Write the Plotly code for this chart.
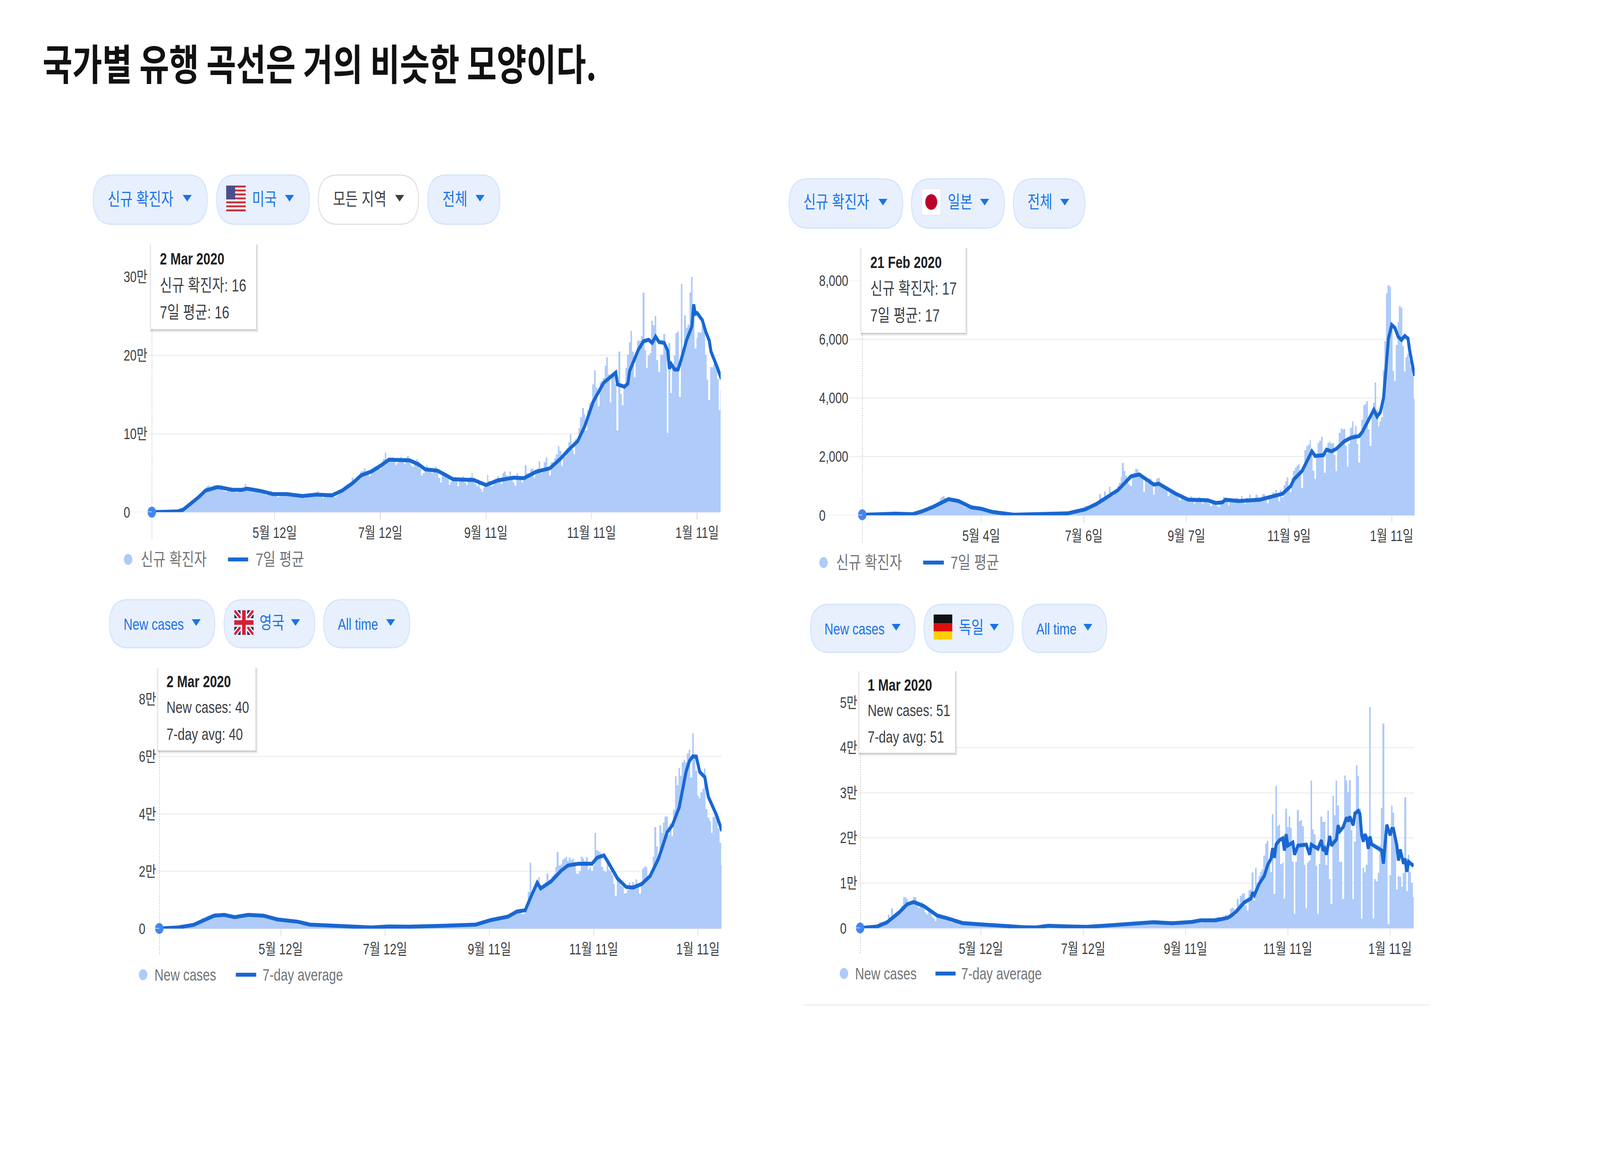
import pandas as pd
import plotly.graph_objects as go

W, H = 5333, 3000

title_text = "국가별 유행 곡선은 거의 비슷한 모양이다."

# ---------- United States (thousands per day, from 2 Mar 2020)
us_start = "2020-03-02"
us_new = [0,0,0,0,0,0.1,0.1,0.1,0.2,0.2,
 0.3,0.4,0.5,0.7,0.8,1,1.5,2,3,4,
 6,8,9,11,13,16,19,20,21,25,
 28,30,33,34,31,33,35,34,33,32,
 35,30,27,26,28,30,32,29,27,25,
 29,28,27,30,36,31,30,29,28,26,
 27,30,29,28,27,24,22,24,25,27,
 25,24,22,19,20,23,25,24,25,24,
 22,20,21,22,23,24,22,19,18,19,
 21,23,24,23,21,24,27,22,20,18,
 20,22,23,25,22,21,19,21,23,26,
 26,30,34,36,33,38,44,42,40,46,
 48,52,53,56,48,50,46,56,58,59,
 60,62,55,64,68,76,64,66,68,70,
 68,60,63,67,71,64,62,70,72,67,
 60,58,63,68,65,56,47,50,57,60,
 57,54,50,52,58,54,44,38,48,50,
 46,43,35,39,44,45,42,33,42,44,
 46,38,35,42,45,50,44,36,33,38,
 30,26,32,36,48,40,33,34,42,43,
 46,42,36,50,52,47,40,52,44,38,
 34,50,46,42,38,45,60,50,50,55,
 56,44,52,56,65,50,
 54,64,70,57,47,64,64,69,74,84,
 78,59,70,71,81,89,99,80,74,93,
 94,107,121,133,125,104,130,139,141,163,
 181,159,135,165,167,171,187,198,176,140,
 177,179,163,104,205,151,136,163,184,201,
 217,231,205,172,202,219,219,225,280,207,
 184,200,203,244,238,250,194,179,201,201,
 227,211,101,216,152,189,200,228,230,147,
 291,209,251,235,239,280,300,253,209,222,
 229,229,239,240,201,169,143,185,185,189,
 191,170,130,155]
us_avg_days = [0,8,15,18,22,27,31,35,38,42,46,52,55,63,70,78,87,95,104,110,116,121,127,131,137,149,154,158,165,170,174,186,193,200,209,215,222,230,236,241,246,250,255,261,268,269,273,275,276,281,284,287,289,291,293,296,298,299,300,302,304,306,309,312,313,314,315,318,320,322,323,327,329]
us_avg = [0.02,0.1,1,3,10,19,27.6,30.5,32,30.5,28.7,28.4,30,27,23,23,20.6,22.4,21.4,27.6,37,47,52,57.4,67,66,61,54.6,52.9,47,42,41,34.6,40.6,44,43.4,51.5,56,68,80,90.5,109,141,165,178,163,160,164,180,207,218,220,216,224,217,216,206,183,189,182,182,196,220,237,265,253,254,245,230,219,205,182.6,170]
us_ticks = ["2020-05-12","2020-07-12","2020-09-11","2020-11-11","2021-01-11"]
us_ticklabels = ["5월 12일","7월 12일","9월 11일","11월 11일","1월 11일"]
us_yvals = [0,100,200,300]
us_ylabels = ["0","10만","20만","30만"]

# ---------- Japan (cases per day, from 21 Feb 2020)
jp_start = "2020-02-21"
jp_new = [17,15,20,25,30,20,25,35,30,25,
 30,40,35,40,50,45,55,50,60,45,
 55,50,45,40,45,55,50,35,30,40,
 35,40,45,60,70,100,130,150,170,190,
 230,260,280,300,340,370,420,480,560,620,
 660,600,560,520,540,510,480,460,430,440,
 380,340,320,280,260,280,260,240,200,240,
 250,230,200,180,150,130,120,100,90,80,
 70,60,50,40,40,30,30,25,25,20,
 20,25,20,30,35,40,30,25,35,40,
 45,40,30,25,35,40,45,50,40,30,
 35,40,50,55,45,35,40,50,60,70,
 60,55,50,65,70,80,90,100,130,140,
 170,190,200,220,170,210,250,300,320,280,
 290,380,410,430,450,350,720,600,500,810,
 560,620,970,800,650,800,900,1000,1100,1300,
 1780,1500,1350,1200,1050,1000,1300,1450,1590,1570,
 1450,1350,1300,800,1200,1100,1250,1250,1100,700,
 1100,1250,1280,1050,1000,1000,1000,850,650,900,
 850,800,700,750,600,500,700,650,600,550,
 480,600,650,600,400,500,580,620,500,400,
 550,520,500,400,300,450,500,450,320,280,
 400,500,620,550,520,330,500,480,500,550,
 600,420,500,650,520,400,600,580,700,550,
 480,600,700,620,500,
 590,717,705,530,416,647,694,790,763,867,
 734,485,867,618,1023,1156,1295,994,792,1283,
 1514,1630,1688,1745,1428,936,1572,2220,2353,2410,
 2566,2035,1514,1237,2046,2468,2543,2670,2035,1445,
 2092,2468,2497,2451,2468,2046,1503,2237,2815,2971,
 2930,2948,2370,1659,2439,2988,3191,2786,3046,2439,
 1803,2728,3260,3757,3798,3884,2930,2370,3595,3838,
 4520,3595,3029,3191,3335,4936,5936,7555,7844,7786,
 6486,4925,4578,5803,6590,7121,7064,5763,4896,5387,
 5503,5272,5040,4751,3971,2786]
jp_avg_days = [0,13,20,31,37,44,53,59,67,73,80,93,108,126,137,144,157,165,170,179,182,192,200,212,217,221,223,231,244,251,258,263,265,270,276,278,283,285,288,291,296,300,305,307,309,311,314,316,318,320,321,323,325,327,329,331,333,335,336,339]
jp_avg = [17,40,56,37,140,300,550,486,270,224,112,20,40,65,205,392,860,1327,1390,1046,1075,747,532,514,420,440,530,486,530,647,734,994,1225,1514,2179,2023,2046,2237,2179,2266,2526,2642,2699,2844,3075,3248,3595,3364,3509,4000,4751,6023,6486,6381,6081,5977,6110,6023,5618,4751]
jp_ticks = ["2020-05-04","2020-07-06","2020-09-07","2020-11-09","2021-01-11"]
jp_ticklabels = ["5월 4일","7월 6일","9월 7일","11월 9일","1월 11일"]
jp_yvals = [0,2000,4000,6000,8000]
jp_ylabels = ["0","2,000","4,000","6,000","8,000"]

# ---------- United Kingdom (thousands per day, from 2 Mar 2020)
uk_start = "2020-03-02"
uk_new = [0.04,0.05,0.1,0.1,0.2,0.2,0.3,0.3,0.4,0.4,
 0.4,0.6,0.7,0.7,0.8,1,1.1,1.2,1.3,1.5,
 1.8,2,2.3,2.7,3,3.5,3.7,3.9,4.2,4.5,
 4.7,5,5,5.5,5.2,4.8,4.5,5,5.3,5,
 4.8,4.4,4,4.3,3.6,3.9,4.7,4.8,5,5.2,
 5,4.8,4.5,4.7,4.8,5,5.2,5,3.8,4.1,
 4.6,4.9,5,4.7,4.2,3.4,3.6,3.8,3.9,3.6,
 3.2,3,3,3.3,3.4,3.2,2.6,2.4,2.6,2.8,
 2.7,2.3,2.2,2.4,2.2,2,1.7,1.6,1.5,1.4,
 1.3,1.5,1.6,1.3,1.2,1,1.1,1.2,1.2,1.1,
 1,1.1,1.1,1,0.9,0.9,1,1,0.9,0.9,
 0.8,1,1,0.9,0.8,0.8,0.9,0.8,0.7,0.7,
 0.6,0.5,0.5,0.4,0.3,0.4,0.5,0.5,0.6,0.6,
 0.7,0.7,0.8,0.8,0.7,0.7,0.8,0.8,0.7,0.7,
 0.7,0.7,0.7,0.8,0.6,0.6,0.8,0.8,0.8,0.7,
 0.7,0.8,0.8,0.9,0.7,0.7,0.9,0.9,1,0.9,
 0.8,1,1,1,1.2,0.9,0.9,1,1.1,1,
 1,0.9,0.9,1,1.1,1,1,1,1.1,1,
 1.2,1.3,1.3,1.4,1.7,1.6,1.5,1.8,2.2,2.6,
 2.8,3,2.8,3,2.9,3.2,3.5,3.6,3.9,3.4,
 3.3,4,4.3,4.5,4.4,3.9,4.9,6,6.2,6.6,
 6.8,7,5,5,6.2,6.9,12.8,23,11,13,
 14,15,18,15.2,14,14.5,16,19.2,17,17.2,
 18.2,19,21.5,26.6,22,22.3,24,24.5,25,23.5,
 24.8,23.8,24.3,23.3,19.2,19,20,25,24.3,23.5,
 24.9,20.5,21.3,20.2,22,33.4,27.3,27,26.5,21.5,
 20.3,19.7,23,20.5,20,18.7,15.5,11.4,17.2,16.2,
 15,14.5,12.2,12.4,13.5,16,14.5,16.2,15.2,17.2,
 15.7,12.2,16,20.9,21.6,21.4,18.5,18.5,18.5,25,
 35.4,28.6,24.8,35.9,33.4,36.9,39,39,32.6,36.6,
 32.3,41.4,53,50,55.9,53.2,57.8,58.8,58,60.9,
 62.3,52.7,68,60,55,46.2,45.4,47.5,48.7,55.8,
 41.7,38.6,37.4,33.4,38.9,39.6,40.4,34.9,30,22.1]
uk_avg_days = [0,11,20,27,32,38,44,52,61,69,81,88,102,114,124,134,146,166,185,194,204,209,214,217,221,223,229,235,239,245,253,256,260,262,268,273,277,282,287,292,297,300,304,308,310,312,314,316,319,321,326,329]
uk_avg = [0.04,0.4,1.3,3.2,4.5,4.8,4,4.8,4.5,3.2,2.4,1.4,1,0.9,0.4,0.76,0.67,1,1.4,3,4.2,5.9,6.4,10.7,16,14,16.4,20.2,22,22.6,22.6,24.7,25.5,23.6,17.4,14.5,14.3,15.5,18.3,24.5,33.6,36,42.2,54.6,58.4,60,59.9,54.6,52.7,46,39.3,34]
uk_ticks = ["2020-05-12","2020-07-12","2020-09-11","2020-11-11","2021-01-11"]
uk_ticklabels = ["5월 12일","7월 12일","9월 11일","11월 11일","1월 11일"]
uk_yvals = [0,20,40,60,80]
uk_ylabels = ["0","2만","4만","6만","8만"]

# ---------- Germany (thousands per day, from 1 Mar 2020)
de_start = "2020-03-01"
de_new = [0.05,0.1,0.1,0.2,0.2,0.3,0.3,0.4,0.4,0.4,
 0.5,0.6,1.4,1,1,1.2,1.8,3,2.5,4.4,
 3,3.5,3.8,4,4.3,5,6.8,6.9,6.5,5,
 5,6,6.9,6.8,5.6,4.5,5.5,5.8,4.5,3.5,
 3,4,4.2,2.5,2.2,1.6,2.8,3,2.5,2.2,
 2,1.9,2.5,2,1.5,1.3,1.6,1.5,1.3,1,
 1.1,1.2,1.2,1,0.8,0.8,1,1,1,0.8,
 0.7,0.9,1,0.9,0.8,0.6,0.6,0.9,1,0.8,
 0.6,0.6,0.7,0.6,0.5,0.4,0.4,0.5,0.5,0.4,
 0.4,0.3,0.4,0.4,0.3,0.3,0.2,0.3,0.3,0.3,
 0.2,0.2,0.1,0.3,0.3,0.2,0.2,0.3,0.3,0.9,
 0.7,0.6,0.6,0.5,0.5,0.4,0.5,0.5,0.4,0.4,
 0.4,0.4,0.5,0.3,0.3,0.4,0.5,0.4,0.3,0.3,
 0.3,0.3,0.4,0.4,0.4,0.3,0.4,0.5,0.4,0.4,
 0.5,0.6,0.5,0.6,0.7,0.5,0.6,0.8,0.8,0.7,
 0.8,0.7,0.7,0.9,1,0.8,0.9,1,1.1,1,
 0.9,1,1.2,1.3,1.2,1.1,1.2,1.4,1.5,1.3,
 1.2,1.2,1.4,1.5,1.5,1.2,1,1,1.4,1.4,
 1.3,1.1,0.8,0.8,1.2,1.4,1.2,1,0.9,1.3,
 1.3,1.2,1,1,1.5,1.6,1.5,1.2,1.2,1.7,
 1.9,2,1.8,1.5,1.2,1.7,2,2,2,1.6,
 1.4,1.8,2.3,2.5,2.5,2.2,1.8,2.6,3,2.8,
 2.4,
 4.3,4.5,4.3,2.9,6.5,5.4,7.2,7.6,7.7,5,
 3.9,8.4,8.6,12.4,6.1,13.4,10,11.6,12.5,13.1,
 16.1,18.8,19.4,14,12.5,25.3,7.6,31.5,22.6,22.9,
 14.2,14.5,6.6,26.5,22.4,24.7,22.2,14.7,3.2,14.7,
 26.2,23.7,24,22.6,14,4.4,14.5,15,32.7,21.9,
 20.8,13.8,3.2,14.3,24.7,23.5,23.6,14,26,10.9,
 5.4,29.3,25,32.7,27.2,14.7,14.7,6.5,33.8,32.7,
 30.2,32.8,21.7,6.5,19.2,36.1,33.7,26.5,2.2,13.4,
 12.4,14,17.9,49,19.2,2.2,10.9,10.4,12.3,18.3,
 26.6,45.3,20.8,20,0.9,11.8,27.2,25.6,21.3,8.6,
 11.5,11.4,9.2,12.2,29,8.2,16.3,12.4,10,6.9]
de_avg_days = [0,10,16,23,28,32,38,46,52,61,72,85,97,105,112,122,135,150,165,175,186,198,203,212,219,221,224,229,233,234,235,238,241,243,245,246,247,248,250,252,253,254,255,258,259,261,266,268,269,273,275,276,277,278,280,281,284,285,286,288,290,291,292,294,295,297,298,299,300,301,302,303,304,305,311,312,314,316,317,318,320,321,322,324,325,326,327,330]
de_avg = [0.05,0.36,1.3,3.4,5.3,5.8,4.9,2.8,2.2,1.15,0.85,0.42,0.24,0.18,0.55,0.42,0.3,0.67,1.15,1.33,1.1,1.4,1.76,1.76,2.3,2.7,3.6,5.7,6.6,7.9,7.3,9.9,11.6,14,15.4,17.7,15.6,18.5,19.5,19.9,17.2,20.8,18.3,19,16.3,18.3,18.5,16.3,18.5,17.6,19.5,17.2,17.7,16.3,20.4,18.3,19.7,22.8,21.5,22.4,24.5,23.7,24.7,22.8,25.4,26,25.3,20.8,19.2,20.8,20,17.6,20.3,18.6,17.2,14.3,22.9,20.6,22,22,18.3,15,17.4,14.3,15.4,12.5,14.7,13.8]
de_ticks = ["2020-05-12","2020-07-12","2020-09-11","2020-11-11","2021-01-11"]
de_ticklabels = ["5월 12일","7월 12일","9월 11일","11월 11일","1월 11일"]
de_yvals = [0,10,20,30,40,50]
de_ylabels = ["0","1만","2만","3만","4만","5만"]

BAR = "#AECBFA"
LINE = "#1967D2"
DOT = "#4285F4"
PILL = "#E8F0FE"
PILLB = "#D2E3FC"
BLUE = "#1A73E8"
DARK = "#3C4043"
GREY = "#70757A"
GRID = "#EFEFEF"
FONT = "Liberation Sans, Noto Sans CJK KR, sans-serif"
KO = 45   # Korean text size
EN = 41   # Latin text size


def px(x):
    return x / W


def py(y):
    return 1 - y / H


shapes, annos = [], []


def rect(x0, y0, x1, y1, fill, line=None, lw=0):
    shapes.append(dict(type="rect", xref="paper", yref="paper", x0=px(x0), x1=px(x1), y0=py(y0), y1=py(y1),
                       fillcolor=fill, line=dict(color=line or fill, width=lw)))


def poly(points, fill):
    d = "M " + " L ".join(f"{px(a):.6f},{py(b):.6f}" for a, b in points) + " Z"
    shapes.append(dict(type="path", xref="paper", yref="paper", path=d, fillcolor=fill, line=dict(width=0)))


def text(x, y, s, size, color, anchor="left", bold=False, family=FONT):
    annos.append(dict(xref="paper", yref="paper", x=px(x), y=py(y), text=f"<b>{s}</b>" if bold else s,
                      showarrow=False, xanchor=anchor, yanchor="middle", align="left",
                      font=dict(size=size, color=color, family=family)))


def pill(x0, y0, x1, y1, fill, border):
    r = (y1 - y0) / 2
    p = lambda a, b: f"{px(a):.6f},{py(b):.6f}"
    d = (f"M {p(x0 + r, y0)} L {p(x1 - r, y0)} Q {p(x1, y0)} {p(x1, y0 + r)} Q {p(x1, y1)} {p(x1 - r, y1)} "
         f"L {p(x0 + r, y1)} Q {p(x0, y1)} {p(x0, y0 + r)} Q {p(x0, y0)} {p(x0 + r, y0)} Z")
    shapes.append(dict(type="path", xref="paper", yref="paper", path=d, fillcolor=fill, line=dict(color=border, width=3)))


def caret(cx, cy, color):
    poly([(cx - 15, cy - 8), (cx + 15, cy - 8), (cx, cy + 9)], color)


def tooltip(x0, y0, x1, y1, tx, lines, ys, size):
    for off, a in ((7, 0.05), (4, 0.07), (2, 0.09)):
        rect(x0 - off + 2, y0 + 2, x1 + off, y1 + off + 1, f"rgba(0,0,0,{a})")
    rect(x0, y0, x1, y1, "#FFFFFF")
    text(tx, ys[0], lines[0], 42, "#202124", bold=True)
    text(tx, ys[1], lines[1], size, "#3C4043")
    text(tx, ys[2], lines[2], size, "#3C4043")


def legend(cx, cy, tx, lx0, lx1, l2x, a, b, size):
    shapes.append(dict(type="circle", xref="paper", yref="paper", x0=px(cx - 14), x1=px(cx + 14), y0=py(cy + 14),
                       y1=py(cy - 14), fillcolor=BAR, line=dict(width=0)))
    text(tx, cy, a, size, GREY)
    shapes.append(dict(type="line", xref="paper", yref="paper", x0=px(lx0), x1=px(lx1), y0=py(cy), y1=py(cy),
                       line=dict(color=LINE, width=10)))
    text(l2x, cy, b, size, GREY)


fig = go.Figure()
layout = {}


def panel(i, start, new, days, avg, ticks, ticklabels, yvals, ylabels, x0, xgrid, ppd, ytop, yzero, lx, ymax, cross_top, cross_bot, wide, narrow):
    sfx = "" if i == 1 else str(i)
    xa, ya = f"xaxis{sfx}", f"yaxis{sfx}"
    xr, yr = f"x{sfx}", f"y{sfx}"
    s = pd.Timestamp(start)
    dates = [s + pd.Timedelta(days=k) for k in range(len(new))]
    avg_dates = [s + pd.Timedelta(days=k) for k in days]
    fig.add_trace(go.Bar(x=dates, y=new, width=86400000, marker=dict(color=BAR, line=dict(width=0)), xaxis=xr, yaxis=yr,
                         cliponaxis=False, showlegend=False, hoverinfo="skip"))
    fig.add_trace(go.Scatter(x=avg_dates, y=avg, mode="lines", line=dict(color=LINE, width=10), xaxis=xr, yaxis=yr,
                             cliponaxis=False, showlegend=False, hoverinfo="skip"))
    fig.add_trace(go.Scatter(x=[dates[0]], y=[new[0]], mode="markers", marker=dict(color=DOT, size=28), xaxis=xr, yaxis=yr,
                             cliponaxis=False, showlegend=False, hoverinfo="skip"))
    end = s + pd.Timedelta(days=(xgrid - x0) / ppd)
    layout[xa] = dict(domain=[px(x0), px(xgrid)], anchor=yr, type="date", range=[s, end], tickmode="array", tickvals=ticks,
                      ticktext=ticklabels, showgrid=False, zeroline=False, showline=False, ticks="outside", ticklen=18,
                      tickwidth=3, tickcolor="#E2E2E2", tickfont=dict(size=39, color=DARK, family=FONT))
    layout[ya] = dict(domain=[py(yzero), py(ytop)], anchor=xr, range=[0, ymax], tickmode="array", tickvals=yvals,
                      showticklabels=False, showgrid=True, gridcolor=GRID, gridwidth=3, zeroline=True, zerolinecolor=GRID,
                      zerolinewidth=3, showline=False, ticks="")
    for v, t in zip(yvals, ylabels):
        annos.append(dict(xref="paper", yref=yr, x=px(lx), y=v, text=t, showarrow=False, xanchor="left", yanchor="middle",
                          font=dict(size=39, color=DARK, family=FONT)))
        # the gridline reaches back to the end of its label
        grid_from = lx + (narrow if v == 0 else wide)
        shapes.insert(0, dict(type="line", xref="paper", yref=yr, x0=px(grid_from), x1=px(x0), y0=v, y1=v,
                              line=dict(color=GRID, width=3)))
    shapes.append(dict(type="line", xref=xr, yref="paper", x0=dates[0], x1=dates[0], y0=py(cross_top), y1=py(cross_bot),
                       line=dict(color="#777777", width=2, dash="dot")))


panel(1, us_start, us_new, us_avg_days, us_avg, us_ticks, us_ticklabels, us_yvals, us_ylabels, 506, 2402, 5.77, 709, 1311, 410, 300, 843, 1381, 84, 24)
panel(2, jp_start, jp_new, jp_avg_days, jp_avg, jp_ticks, jp_ticklabels, jp_yvals, jp_ylabels, 2874, 4715, 5.43, 718, 1319, 2728, 8000, 852, 1390, 102, 24)
panel(3, uk_start, uk_new, uk_avg_days, uk_avg, uk_ticks, uk_ticklabels, uk_yvals, uk_ylabels, 531, 2405, 5.70, 1789, 2377, 461, 80, 1921, 2445, 62, 24)
panel(4, de_start, de_new, de_avg_days, de_avg, de_ticks, de_ticklabels, de_yvals, de_ylabels, 2867, 4712, 5.59, 1798, 2376, 2798, 50, 1927, 2443, 62, 24)

# ----- title
text(140, 158, title_text, 108, "#111111", bold=True, family="Noto Sans CJK KR, sans-serif")

# ----- pills, United States
cy = 510
pill(311, 448, 691, 574, PILL, PILLB); text(357, cy, "신규 확진자", KO, BLUE); caret(624, 507, BLUE)
pill(722, 448, 1031, 574, PILL, PILLB); text(838, cy, "미국", KO, BLUE); caret(965, 507, BLUE)
pill(1061, 448, 1395, 574, "#FFFFFF", "#E0E0E0"); text(1108, cy, "모든 지역", KO, DARK); caret(1332, 507, DARK)
pill(1426, 448, 1666, 574, PILL, PILLB); text(1473, cy, "전체", KO, BLUE); caret(1600, 507, BLUE)
a, b, c, d = 754, 475, 819, 541
for k in range(13):
    rect(a, b + (d - b) * k / 13, c, b + (d - b) * (k + 1) / 13, "#C8313E" if k % 2 == 0 else "#FFFFFF")
rect(a, b, a + 30, b + (d - b) * 7 / 13, "#4A4E8C")

# ----- pills, Japan
cy = 518
pill(2630, 458, 3009, 584, PILL, PILLB); text(2676, cy, "신규 확진자", KO, BLUE); caret(2943, 517, BLUE)
pill(3038, 458, 3348, 584, PILL, PILLB); text(3157, cy, "일본", KO, BLUE); caret(3282, 517, BLUE)
pill(3378, 458, 3616, 584, PILL, PILLB); text(3423, cy, "전체", KO, BLUE); caret(3549, 517, BLUE)
rect(3072, 483, 3136, 551, "#FFFFFF", "#E6E6E6", 2)
shapes.append(dict(type="circle", xref="paper", yref="paper", x0=px(3084), x1=px(3124), y0=py(537), y1=py(497),
                   fillcolor="#BC002D", line=dict(width=0)))

# ----- pills, United Kingdom
cy = 1598
pill(365, 1535, 716, 1658, PILL, PILLB); text(410, cy, "New cases", EN, BLUE); caret(654, 1593, BLUE)
pill(747, 1535, 1049, 1658, PILL, PILLB); text(863, 1595, "영국", KO, BLUE); caret(985, 1593, BLUE)
pill(1079, 1535, 1366, 1658, PILL, PILLB); text(1124, cy, "All time", EN, BLUE); caret(1302, 1593, BLUE)
a, b, c, d = 781, 1562, 845, 1625
rect(a, b, c, d, "#1F2F6B")
for pts, col in (
    ([(a, b), (a + 10, b), (c, d - 10), (c, d), (c - 10, d), (a, b + 10)], "#FFFFFF"),
    ([(c, b), (c - 10, b), (a, d - 10), (a, d), (a + 10, d), (c, b + 10)], "#FFFFFF"),
    ([(a, b), (a + 5, b), (c, d - 5), (c, d), (c - 5, d), (a, b + 5)], "#D5213A"),
    ([(c, b), (c - 5, b), (a, d - 5), (a, d), (a + 5, d), (c, b + 5)], "#D5213A"),
):
    poly(pts, col)
rect(a, (b + d) / 2 - 11, c, (b + d) / 2 + 11, "#FFFFFF")
rect((a + c) / 2 - 11, b, (a + c) / 2 + 11, d, "#FFFFFF")
rect(a, (b + d) / 2 - 6, c, (b + d) / 2 + 6, "#D5213A")
rect((a + c) / 2 - 6, b, (a + c) / 2 + 6, d, "#D5213A")

# ----- pills, Germany
cy = 1610
pill(2702, 1547, 3050, 1670, PILL, PILLB); text(2746, cy, "New cases", EN, BLUE); caret(2987, 1605, BLUE)
pill(3080, 1547, 3377, 1670, PILL, PILLB); text(3194, 1606, "독일", KO, BLUE); caret(3314, 1605, BLUE)
pill(3407, 1547, 3689, 1670, PILL, PILLB); text(3452, cy, "All time", EN, BLUE); caret(3626, 1605, BLUE)
rect(3112, 1573, 3174, 1595, "#111111")
rect(3112, 1595, 3174, 1616, "#DD1010")
rect(3112, 1616, 3174, 1637, "#FFCE00")

# ----- tooltips
tooltip(503, 624, 854, 843, 531, ["2 Mar 2020", "신규 확진자: 16", "7일 평균: 16"], [662, 730, 800], 44)
tooltip(2871, 633, 3219, 852, 2899, ["21 Feb 2020", "신규 확진자: 17", "7일 평균: 17"], [672, 738, 808], 44)
tooltip(527, 1707, 852, 1921, 553, ["2 Mar 2020", "New cases: 40", "7-day avg: 40"], [1744, 1810, 1879], 42)
tooltip(2864, 1716, 3184, 1927, 2890, ["1 Mar 2020", "New cases: 51", "7-day avg: 51"], [1753, 1818, 1886], 42)

# ----- legends
legend(427, 1432, 467, 760, 827, 850, "신규 확진자", "7일 평균", KO)
legend(2745, 1440, 2785, 3077, 3146, 3166, "신규 확진자", "7일 평균", KO)
legend(477, 2495, 513, 786, 854, 873, "New cases", "7-day average", 42)
legend(2813, 2492, 2848, 3118, 3185, 3202, "New cases", "7-day average", 42)

# ----- rule under the Germany panel
rect(2680, 2571, 4764, 2574, "#EEEEEE")

fig.update_layout(width=W, height=H, margin=dict(l=0, r=0, t=0, b=0), paper_bgcolor="#FFFFFF", plot_bgcolor="#FFFFFF",
                  barmode="overlay", bargap=0, showlegend=False, shapes=shapes, annotations=annos, **layout)

# Fit the 5333x3000 figure to whatever window it is photographed in (identity in a true 5333x3000 window).
fit_js = """
var gd = document.getElementById('{plot_id}');
document.documentElement.style.overflow = 'hidden';
document.body.style.margin = '0';
document.body.style.overflow = 'hidden';
gd.style.transformOrigin = '0 0';
gd.style.transform = 'scale(' + (window.innerWidth / 5333) + ',' + (window.innerHeight / 3000) + ')';
"""
fig.write_html("out.html", config={"displayModeBar": False}, post_script=fit_js)
